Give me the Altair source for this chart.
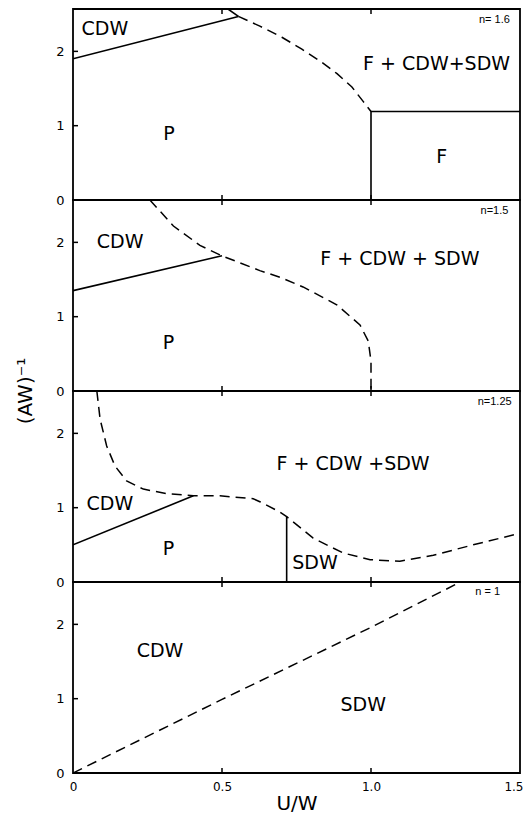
import altair as alt
import pandas as pd

# ---------------- axes ----------------
x_domain = [0, 1.5]
y_domain = [0, 2.57]
x_tick_values = [0, 0.5, 1.0, 1.5]
x_tick_labels = ["0", "0.5", "1.0", "1.5"]
y_tick_values = [0, 1, 2]
inner_x_ticks = [0.5, 1.0]
inner_y_ticks = [1, 2]
x_title = "U/W"
y_title = "(AW)⁻¹"

# ---------------- n = 1.6 ----------------
n16_cdw_x = [0.0, 0.555]
n16_cdw_y = [1.90, 2.47]
n16_top_x = [0.555, 0.52]
n16_top_y = [2.47, 2.57]
n16_dash_x = [0.555, 0.627, 0.701, 0.768, 0.829, 0.886, 0.936, 0.973, 1.0]
n16_dash_y = [2.47, 2.34, 2.19, 2.03, 1.87, 1.70, 1.52, 1.33, 1.19]
n16_f_x = [1.0, 1.0, 1.5]
n16_f_y = [0.0, 1.19, 1.19]
n16_text = ["CDW", "P", "F + CDW+SDW", "F"]
n16_text_x = [0.107, 0.322, 1.22, 1.237]
n16_text_y = [2.30, 0.89, 1.83, 0.58]

# ---------------- n = 1.5 ----------------
n15_cdw_x = [0.0, 0.5]
n15_cdw_y = [1.35, 1.82]
n15_dash_x = [0.258, 0.337, 0.426, 0.499, 0.627, 0.695, 0.772, 0.885, 0.963, 0.991, 1.0, 1.0]
n15_dash_y = [2.57, 2.22, 1.96, 1.82, 1.62, 1.53, 1.40, 1.16, 0.89, 0.67, 0.40, 0.0]
n15_text = ["CDW", "P", "F + CDW + SDW"]
n15_text_x = [0.158, 0.32, 1.097]
n15_text_y = [2.01, 0.64, 1.78]

# ---------------- n = 1.25 ----------------
n125_cdw_x = [0.0, 0.404]
n125_cdw_y = [0.50, 1.16]
n125_sdw_x = [0.717, 0.717]
n125_sdw_y = [0.0, 0.88]
n125_dash_x = [0.08, 0.091, 0.113, 0.141, 0.18, 0.236, 0.314, 0.404, 0.493, 0.605,
               0.627, 0.695, 0.717, 0.806, 0.907, 0.997, 1.097, 1.209, 1.343, 1.494]
n125_dash_y = [2.57, 2.19, 1.83, 1.56, 1.36, 1.25, 1.19, 1.16, 1.16, 1.12,
               1.08, 0.94, 0.88, 0.59, 0.39, 0.30, 0.28, 0.36, 0.50, 0.65]
n125_text = ["CDW", "P", "SDW", "F + CDW  +SDW"]
n125_text_x = [0.124, 0.32, 0.812, 0.94]
n125_text_y = [1.05, 0.45, 0.25, 1.59]

# ---------------- n = 1 ----------------
n1_dash_x = [0.0, 0.5, 1.0, 1.3]
n1_dash_y = [0.0, 0.99, 1.96, 2.57]
n1_text = ["CDW", "SDW"]
n1_text_x = [0.292, 0.974]
n1_text_y = [1.64, 0.92]

# panel tags (density n)
tag_text = ["n= 1.6", "n=1.5", "n=1.25", "n = 1"]
tag_x = [1.466, 1.461, 1.472, 1.433]
tag_y = [2.42, 2.42, 2.42, 2.44]

PANEL_W = 447
PANEL_H = 191
FONT = "DejaVu Sans"

panels = [
    {
        "lines": [(n16_cdw_x, n16_cdw_y, "solid"), (n16_top_x, n16_top_y, "solid"),
                  (n16_dash_x, n16_dash_y, "dash"), (n16_f_x, n16_f_y, "solid")],
        "text": (n16_text, n16_text_x, n16_text_y),
    },
    {
        "lines": [(n15_cdw_x, n15_cdw_y, "solid"), (n15_dash_x, n15_dash_y, "dash")],
        "text": (n15_text, n15_text_x, n15_text_y),
    },
    {
        "lines": [(n125_cdw_x, n125_cdw_y, "solid"), (n125_sdw_x, n125_sdw_y, "solid"),
                  (n125_dash_x, n125_dash_y, "dash")],
        "text": (n125_text, n125_text_x, n125_text_y),
    },
    {
        "lines": [(n1_dash_x, n1_dash_y, "dash")],
        "text": (n1_text, n1_text_x, n1_text_y),
    },
]

label_expr = "+".join([f"(datum.value == {v} ? '{t}' : '')" for v, t in zip(x_tick_values, x_tick_labels)])
last_x = x_tick_values[-1]

x_scale = alt.Scale(domain=x_domain, nice=False, zero=False)
y_scale = alt.Scale(domain=y_domain, nice=False, zero=False)

AX = dict(labelFont=FONT, labelColor="black",
          titleFont=FONT, titleFontSize=20, titleFontWeight="normal", titleColor="black",
          ticks=False, tickSize=0, domain=False, grid=False)


def make_panel(i, info):
    bottom = i == len(panels) - 1
    if bottom:
        x_axis = alt.Axis(values=x_tick_values, labelExpr=label_expr, labelFlush=False,
                          labelAlign={"condition": {"test": f"datum.value == {last_x}", "value": "right"},
                                      "value": "center"},
                          labelOffset={"condition": {"test": f"datum.value == {last_x}", "value": 3},
                                       "value": 0},
                          labelFontSize=12, labelPadding=8, title=x_title, titlePadding=1, **AX)
    else:
        x_axis = None
    y_axis = alt.Axis(values=y_tick_values, format="d", labelFontSize=13, labelPadding=9,
                      title=None, **AX)

    X = lambda f: alt.X(f, type="quantitative", scale=x_scale, axis=x_axis)
    Y = lambda f: alt.Y(f, type="quantitative", scale=y_scale, axis=y_axis)

    rows = []
    for s, (xs, ys, style) in enumerate(info["lines"]):
        for k, (xv, yv) in enumerate(zip(xs, ys)):
            rows.append({"seg": s, "style": style, "order": k, "x": xv, "y": yv})
    df = pd.DataFrame(rows)
    layers = []
    solid = df[df["style"] == "solid"]
    dash = df[df["style"] == "dash"]
    if len(solid):
        layers.append(alt.Chart(solid).mark_line(color="black", strokeWidth=1.6, clip=True).encode(
            x=X("x"), y=Y("y"), detail="seg:N", order="order:Q"))
    if len(dash):
        layers.append(alt.Chart(dash).mark_line(color="black", strokeWidth=1.5, strokeDash=[10, 6], clip=True).encode(
            x=X("x"), y=Y("y"), detail="seg:N", order="order:Q"))

    txt, tx, ty = info["text"]
    tdf = pd.DataFrame({"t": txt, "x": tx, "y": ty})
    layers.append(alt.Chart(tdf).mark_text(font=FONT, fontSize=19, color="black",
                                           align="center", baseline="middle").encode(
        x=X("x"), y=Y("y"), text="t:N"))

    tagdf = pd.DataFrame({"t": [tag_text[i]], "x": [tag_x[i]], "y": [tag_y[i]]})
    layers.append(alt.Chart(tagdf).mark_text(font="Liberation Sans", fontSize=11, color="black",
                                             align="right", baseline="middle").encode(
        x=X("x"), y=Y("y"), text="t:N"))

    # inward tick marks
    ydf = pd.DataFrame({"v": inner_y_ticks})
    layers.append(alt.Chart(ydf).mark_rule(color="black", strokeWidth=1.5).encode(
        y=Y("v"), x=alt.value(0), x2=alt.value(5)))
    xdf = pd.DataFrame({"v": inner_x_ticks})
    layers.append(alt.Chart(xdf).mark_rule(color="black", strokeWidth=1.5).encode(
        x=X("v"), y=alt.value(0), y2=alt.value(5)))
    layers.append(alt.Chart(xdf).mark_rule(color="black", strokeWidth=1.5).encode(
        x=X("v"), y=alt.value(PANEL_H), y2=alt.value(PANEL_H - 5)))

    if i == 1:
        ttl = pd.DataFrame({"t": [y_title]})
        layers.append(alt.Chart(ttl).mark_text(font=FONT, fontSize=20, color="black", angle=270,
                                               align="center", baseline="middle").encode(
            x=alt.value(-47), y=alt.value(PANEL_H), text="t:N"))

    return alt.layer(*layers).properties(width=PANEL_W, height=PANEL_H)


chart = alt.vconcat(*[make_panel(i, p) for i, p in enumerate(panels)], spacing=0, bounds="flush")
chart = chart.properties(
    padding={"left": 7, "top": -1, "right": 0, "bottom": 0}, background="white"
).configure_view(stroke="black", strokeWidth=1.8)

chart.save("out.html", embed_options={"renderer": "svg", "actions": False})
